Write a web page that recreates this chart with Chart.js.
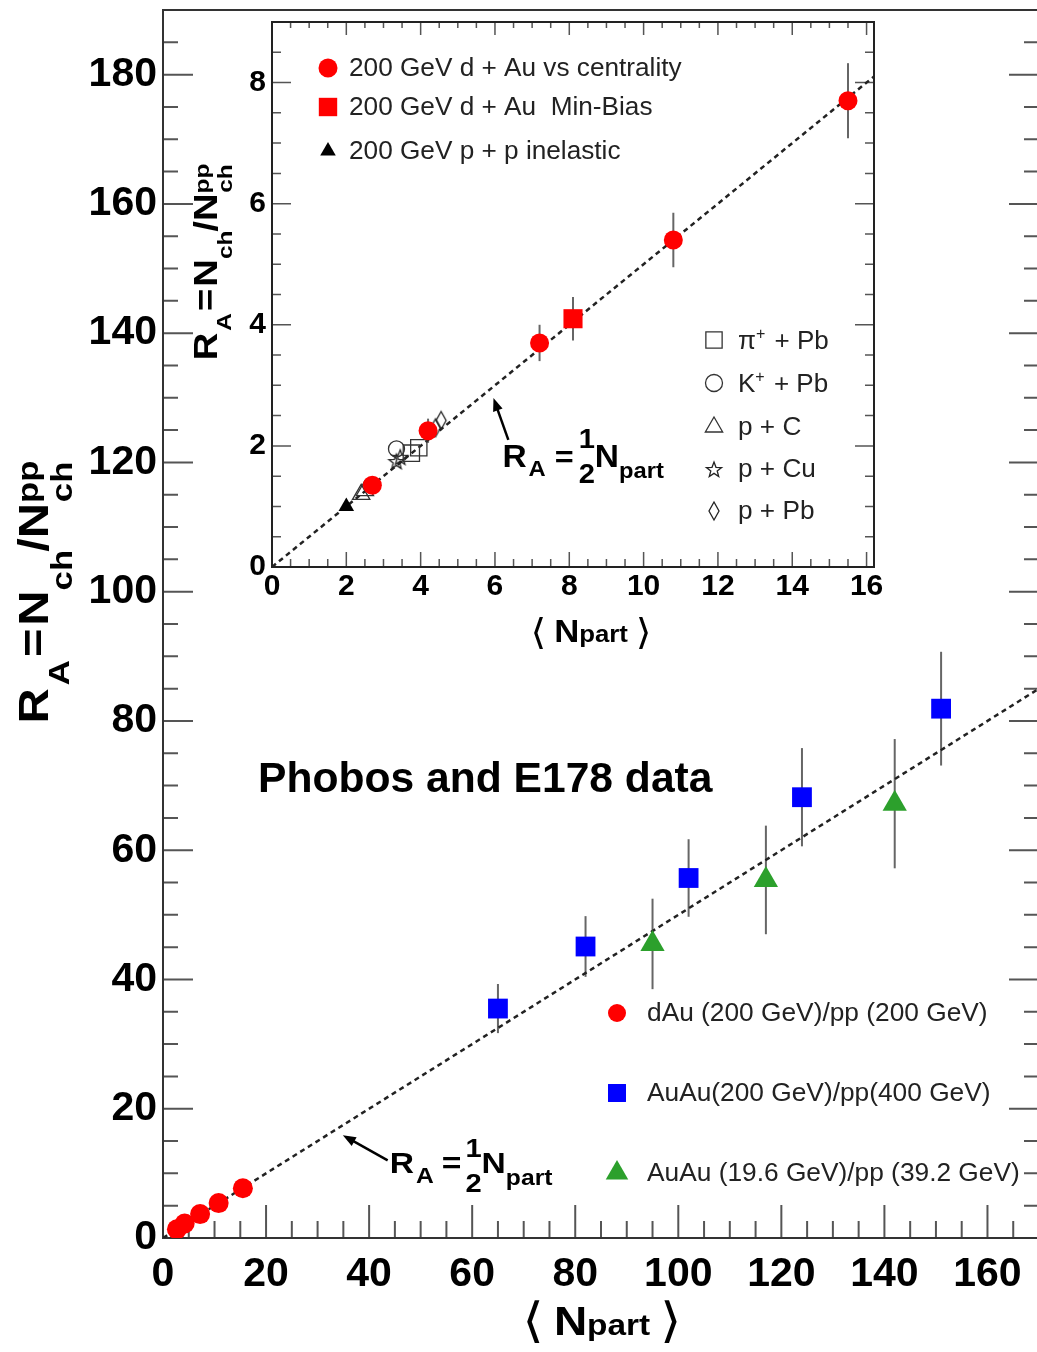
<!DOCTYPE html>
<html>
<head>
<meta charset="utf-8">
<script src="https://cdn.jsdelivr.net/npm/chart.js@4.4.0/dist/chart.umd.min.js"></script>
<style>
html, body { margin: 0; padding: 0; background: #fff; overflow: hidden; }
#wrap { position: relative; width: 1045px; height: 1352px; }
#main { position: absolute; left: 0; top: 0; }
#inset { position: absolute; left: 180px; top: 0; }
</style>
</head>
<body>
<div id="wrap">
<canvas id="main" width="1045" height="1352"></canvas>
<canvas id="inset" width="720" height="670"></canvas>
</div>
<script>
// ---- data: main panel ----
let dauNpart = [2.7, 4.2, 7.2, 10.8, 15.5];
let dauRatio = [1.35, 2.25, 3.7, 5.4, 7.7];
let dauErr = [0.12, 0.2, 0.3, 0.45, 0.62];

let auau200Npart = [65, 82, 102, 124, 151];
let auau200Ratio = [35.5, 45.1, 55.7, 68.2, 81.9];
let auau200Err = [3.8, 4.7, 6.0, 7.6, 8.8];

let auau19Npart = [95, 117, 142];
let auau19Ratio = [45.5, 55.4, 67.2];
let auau19Err = [7.0, 8.4, 10.0];

let lineNpart = [0, 170];
let lineRatio = [0, 85];

let mainXTicks = [0, 20, 40, 60, 80, 100, 120, 140, 160];
let mainYTicks = [0, 20, 40, 60, 80, 100, 120, 140, 160, 180];

// ---- data: inset ----
let minBiasNpart = [8.1];
let minBiasRatio = [4.1];
let minBiasErr = [0.36];
let ppNpart = [2.0];
let ppRatio = [1.0];
let piPbNpart = [3.75, 3.95];
let piPbRatio = [1.88, 1.97];
let kPbNpart = [3.35];
let kPbRatio = [1.95];
let pcNpart = [2.4, 2.5];
let pcRatio = [1.2, 1.26];
let pcuNpart = [3.35, 3.45];
let pcuRatio = [1.75, 1.82];
let ppbNpart = [4.4, 4.55];
let ppbRatio = [2.3, 2.42];
let insetLineNpart = [0, 16.2];
let insetLineRatio = [0, 8.1];

let insetXTicks = [0, 2, 4, 6, 8, 10, 12, 14, 16];
let insetYTicks = [0, 2, 4, 6, 8];

const INSET_LEFT = 180;
const FONT = '"Liberation Sans", Arial, sans-serif';
const WIDE = 1.16;   // the original lettering is a bit wider than Arial

function pts(xs, ys) {
    return xs.map((x, i) => ({ x: x, y: ys[i] }));
}

function makeStar(r) {
    let c = document.createElement('canvas');
    let s = Math.ceil(r * 2 + 4);
    c.width = s; c.height = s;
    let g = c.getContext('2d');
    g.strokeStyle = '#222'; g.lineWidth = 1.3;
    g.beginPath();
    for (let i = 0; i < 10; i++) {
        let rr = i % 2 === 0 ? r : r * 0.42;
        let a = -Math.PI / 2 + i * Math.PI / 5;
        let px = s / 2 + rr * Math.cos(a), py = s / 2 + 1 + rr * Math.sin(a);
        if (i === 0) g.moveTo(px, py); else g.lineTo(px, py);
    }
    g.closePath(); g.stroke();
    return c;
}

function makeDiamond(w, h) {
    let c = document.createElement('canvas');
    c.width = w + 4; c.height = h + 4;
    let g = c.getContext('2d');
    g.strokeStyle = '#222'; g.lineWidth = 1.3;
    g.beginPath();
    g.moveTo(c.width / 2, 2); g.lineTo(c.width - 2, c.height / 2);
    g.lineTo(c.width / 2, c.height - 2); g.lineTo(2, c.height / 2);
    g.closePath(); g.stroke();
    return c;
}

let starImg = makeStar(8);
let diamondImg = makeDiamond(10, 18);

// ---- text helpers ----
function fontStr(p) {
    return (p.weight || 'bold') + ' ' + p.size + 'px ' + (p.family || FONT);
}
function runWidth(ctx, p, sx) {
    ctx.font = fontStr(p);
    if (p.stack) return sx * Math.max.apply(null, p.stack.map(s => ctx.measureText(s.t).width));
    return sx * ctx.measureText(p.t).width;
}
function drawRich(ctx, parts, x, y, align, color, sx) {
    sx = sx || 1;
    ctx.save();
    ctx.fillStyle = color || '#000';
    ctx.textBaseline = 'alphabetic';
    ctx.textAlign = 'left';
    let total = parts.reduce((s, p) => s + runWidth(ctx, p, sx) + (p.gap || 0), 0);
    let cx = align === 'center' ? x - total / 2 : x;
    parts.forEach(p => {
        ctx.font = fontStr(p);
        let w = runWidth(ctx, p, sx);
        let items = p.stack ? p.stack : [{ t: p.t, dy: p.dy || 0 }];
        items.forEach(s => {
            let sw = sx * ctx.measureText(s.t).width;
            ctx.save();
            ctx.translate(cx + (w - sw) / 2, y + s.dy);
            ctx.scale(sx, 1);
            ctx.fillText(s.t, 0, 0);
            ctx.restore();
        });
        cx += w + (p.gap || 0);
    });
    ctx.restore();
}

function drawArrow(ctx, x1, y1, x2, y2) {
    let a = Math.atan2(y2 - y1, x2 - x1);
    ctx.save();
    ctx.strokeStyle = '#000'; ctx.fillStyle = '#000'; ctx.lineWidth = 2.5;
    ctx.beginPath();
    ctx.moveTo(x1, y1);
    ctx.lineTo(x2 - 8 * Math.cos(a), y2 - 8 * Math.sin(a));
    ctx.stroke();
    ctx.beginPath();
    ctx.moveTo(x2, y2);
    ctx.lineTo(x2 - 13 * Math.cos(a) + 5 * Math.sin(a), y2 - 13 * Math.sin(a) - 5 * Math.cos(a));
    ctx.lineTo(x2 - 13 * Math.cos(a) - 5 * Math.sin(a), y2 - 13 * Math.sin(a) + 5 * Math.cos(a));
    ctx.closePath(); ctx.fill();
    ctx.restore();
}

function drawLegend(ctx, items, mx, tx, font) {
    items.forEach(it => {
        ctx.save();
        ctx.fillStyle = it.fill;
        ctx.strokeStyle = it.stroke || it.fill;
        ctx.lineWidth = it.borderWidth || 0;
        Chart.helpers.drawPoint(ctx, { pointStyle: it.style, radius: it.radius, rotation: 0, borderWidth: it.borderWidth || 0 }, mx, it.y);
        ctx.restore();
        if (it.rich) {
            drawRich(ctx, it.rich, tx, it.y + 9, 'left', '#222');
        } else {
            ctx.save();
            ctx.font = font; ctx.fillStyle = '#222';
            ctx.textBaseline = 'middle'; ctx.textAlign = 'left';
            ctx.fillText(it.label, tx, it.y + 1);
            ctx.restore();
        }
    });
}

// ---- plugins ----
function frameTicks(cfg) {
    return {
        id: 'frameTicks',
        beforeDatasetsDraw(chart) {
            let ctx = chart.ctx, a = chart.chartArea;
            let x = chart.scales.x, y = chart.scales.y;
            ctx.save();
            ctx.strokeStyle = cfg.tickColor; ctx.lineWidth = cfg.tickWidth;
            ctx.beginPath();
            let nx = Math.round((x.max - x.min) / cfg.xMinor);
            for (let i = 1; i <= nx; i++) {
                let v = x.min + i * cfg.xMinor;
                if (v >= x.max - 1e-9) break;
                let major = Math.abs(v / cfg.xMajor - Math.round(v / cfg.xMajor)) < 1e-6;
                let px = x.getPixelForValue(v);
                let lb = major ? cfg.bottomMajor : cfg.bottomMinor;
                ctx.moveTo(px, a.bottom); ctx.lineTo(px, a.bottom - lb);
                if (cfg.top) {
                    let lt = major ? cfg.topMajor : cfg.topMinor;
                    ctx.moveTo(px, a.top); ctx.lineTo(px, a.top + lt);
                }
            }
            let ny = Math.round((y.max - y.min) / cfg.yMinor);
            for (let i = 1; i <= ny; i++) {
                let v = y.min + i * cfg.yMinor;
                if (v >= y.max - 1e-9) break;
                let major = Math.abs(v / cfg.yMajor - Math.round(v / cfg.yMajor)) < 1e-6;
                let py = y.getPixelForValue(v);
                let l = major ? cfg.sideMajor : cfg.sideMinor;
                ctx.moveTo(a.left, py); ctx.lineTo(a.left + l, py);
                ctx.moveTo(a.right, py); ctx.lineTo(a.right - l, py);
            }
            ctx.stroke();
            ctx.strokeStyle = cfg.frameColor; ctx.lineWidth = cfg.frameWidth;
            ctx.strokeRect(a.left, a.top, a.right - a.left, a.bottom - a.top);
            ctx.restore();
        }
    };
}

const errorBars = {
    id: 'errorBars',
    beforeDatasetsDraw(chart) {
        let ctx = chart.ctx, ys = chart.scales.y;
        ctx.save();
        ctx.strokeStyle = '#666'; ctx.lineWidth = 2;
        chart.data.datasets.forEach((ds, i) => {
            if (!ds.errors) return;
            let meta = chart.getDatasetMeta(i);
            meta.data.forEach((el, j) => {
                let v = ds.data[j].y, e = ds.errors[j];
                ctx.beginPath();
                ctx.moveTo(el.x, ys.getPixelForValue(v - e));
                ctx.lineTo(el.x, ys.getPixelForValue(v + e));
                ctx.stroke();
            });
        });
        ctx.restore();
    }
};

function axisScale(ticksArr, fontSize, pad, fitFn) {
    return {
        type: 'linear',
        grid: { display: false, drawTicks: false },
        border: { display: false },
        afterBuildTicks: s => { s.ticks = ticksArr.map(v => ({ value: v })); },
        afterFit: s => {
            fitFn(s);
            s.paddingTop = 0; s.paddingBottom = 0; s.paddingLeft = 0; s.paddingRight = 0;
        },
        ticks: { font: { family: FONT, size: fontSize, weight: 'bold' }, color: '#000', padding: pad, maxRotation: 0, autoSkip: false }
    };
}

// ---- main chart ----
const mainDecor = {
    id: 'mainDecor',
    afterDraw(chart) {
        let ctx = chart.ctx;
        let x = chart.scales.x, y = chart.scales.y;
        // y title
        ctx.save();
        ctx.translate(48, 592);
        ctx.rotate(-Math.PI / 2);
        drawRich(ctx, [
            { t: 'R', size: 42, gap: 3 }, { t: 'A', size: 30, dy: 21, gap: 3 }, { t: '=', size: 42, gap: 3 },
            { t: 'N', size: 42 }, { t: 'ch', size: 30, dy: 24, gap: -2 }, { t: '/', size: 42 },
            { t: 'N', size: 42 }, { stack: [{ t: 'pp', dy: -10 }, { t: 'ch', dy: 24 }], size: 30 }
        ], 0, 0, 'center', '#000', WIDE);
        ctx.restore();
        // x title
        drawRich(ctx, [
            { t: '\u27E8', size: 48, weight: 'normal', family: '"DejaVu Sans"', dy: 2, gap: 10 },
            { t: 'N', size: 40 }, { t: 'part', size: 29, dy: 0, gap: 10 },
            { t: '\u27E9', size: 48, weight: 'normal', family: '"DejaVu Sans"', dy: 2 }
        ], 602, 1335, 'center', '#000', 1.15);
        // label
        ctx.save();
        ctx.font = 'bold 42.6px ' + FONT; ctx.fillStyle = '#000';
        ctx.fillText('Phobos and E178 data', 258, 792);
        ctx.restore();
        // R_A annotation
        drawArrow(ctx, x.getPixelForValue(43.6), y.getPixelForValue(12.0), x.getPixelForValue(34.9), y.getPixelForValue(15.9));
        drawRich(ctx, [
            { t: 'R', size: 30, gap: 2 }, { t: 'A', size: 22, dy: 10, gap: 8 }, { t: '=', size: 30, gap: 4 },
            { stack: [{ t: '1', dy: -16 }, { t: '2', dy: 19 }], size: 26 },
            { t: 'N', size: 30 }, { t: 'part', size: 22, dy: 12 }
        ], x.getPixelForValue(44.0), y.getPixelForValue(10.0), 'left', '#000', 1.12);
        // legend
        drawLegend(ctx, [
            { style: 'circle', radius: 9, fill: '#ff0000', y: 1013, label: 'dAu (200 GeV)/pp (200 GeV)' },
            { style: 'rect', radius: 12.7, fill: '#0000ff', y: 1093, label: 'AuAu(200 GeV)/pp(400 GeV)' },
            { style: 'triangle', radius: 13, fill: '#2ca02c', y: 1173, label: 'AuAu (19.6 GeV)/pp (39.2 GeV)' }
        ], 617, 647, '26.3px ' + FONT);
    }
};

new Chart(document.getElementById('main'), {
    type: 'scatter',
    data: {
        datasets: [
            { label: 'R_A = Npart/2', type: 'line', data: pts(lineNpart, lineRatio), borderColor: '#222', borderWidth: 2.5, borderDash: [5, 4], pointRadius: 0, fill: false, order: 5 },
            { label: 'dAu (200 GeV)/pp (200 GeV)', data: pts(dauNpart, dauRatio), errors: dauErr, pointStyle: 'circle', pointRadius: 10, backgroundColor: '#ff0000', borderWidth: 0 },
            { label: 'AuAu(200 GeV)/pp(400 GeV)', data: pts(auau200Npart, auau200Ratio), errors: auau200Err, pointStyle: 'rect', pointRadius: 14, backgroundColor: '#0000ff', borderWidth: 0 },
            { label: 'AuAu (19.6 GeV)/pp (39.2 GeV)', data: pts(auau19Npart, auau19Ratio), errors: auau19Err, pointStyle: 'triangle', pointRadius: 14, backgroundColor: '#2ca02c', borderWidth: 0 }
        ]
    },
    options: {
        responsive: false,
        animation: false,
        events: [],
        layout: { autoPadding: false, padding: { top: 10, right: 6, left: 0, bottom: 0 } },
        plugins: { legend: { display: false }, tooltip: { enabled: false } },
        scales: {
            x: Object.assign(axisScale(mainXTicks, 41, 12, s => { s.height = 114; }), { min: 0, max: 170 }),
            y: Object.assign(axisScale(mainYTicks, 41, 6, s => { s.width = 163; }), { min: 0, max: 190 })
        }
    },
    plugins: [frameTicks({
        xMinor: 5, xMajor: 20, yMinor: 5, yMajor: 20,
        bottomMajor: 33, bottomMinor: 17, sideMajor: 30, sideMinor: 15, top: false,
        tickColor: '#555', tickWidth: 2, frameColor: '#333', frameWidth: 2
    }), errorBars, mainDecor]
});

// ---- inset chart ----
const insetDecor = {
    id: 'insetDecor',
    afterDraw(chart) {
        let ctx = chart.ctx;
        let x = chart.scales.x, y = chart.scales.y;
        ctx.save();
        ctx.translate(217 - INSET_LEFT, 262);
        ctx.rotate(-Math.PI / 2);
        drawRich(ctx, [
            { t: 'R', size: 33, gap: 2 }, { t: 'A', size: 21, dy: 14, gap: 2 }, { t: '=', size: 33, gap: 2 },
            { t: 'N', size: 33 }, { t: 'ch', size: 21, dy: 15, gap: -1 }, { t: '/', size: 33 },
            { t: 'N', size: 33 }, { stack: [{ t: 'pp', dy: -8 }, { t: 'ch', dy: 15 }], size: 21 }
        ], 0, 0, 'center', '#000', WIDE);
        ctx.restore();
        drawRich(ctx, [
            { t: '\u27E8', size: 36, weight: 'normal', family: '"DejaVu Sans"', dy: 2, gap: 8 },
            { t: 'N', size: 31 }, { t: 'part', size: 23, dy: 0, gap: 8 },
            { t: '\u27E9', size: 36, weight: 'normal', family: '"DejaVu Sans"', dy: 2 }
        ], 591 - INSET_LEFT, 642, 'center', '#000', 1.12);
        drawArrow(ctx, x.getPixelForValue(6.36), y.getPixelForValue(2.1), x.getPixelForValue(5.96), y.getPixelForValue(2.79));
        drawRich(ctx, [
            { t: 'R', size: 31, gap: 2 }, { t: 'A', size: 22, dy: 9, gap: 9 }, { t: '=', size: 30, gap: 5 },
            { stack: [{ t: '1', dy: -19 }, { t: '2', dy: 16 }], size: 27 },
            { t: 'N', size: 31 }, { t: 'part', size: 22, dy: 11 }
        ], x.getPixelForValue(6.2), y.getPixelForValue(1.65), 'left', '#000', 1.08);
        drawLegend(ctx, [
            { style: 'circle', radius: 9.5, fill: '#ff0000', y: 68, label: '200 GeV d + Au vs centrality' },
            { style: 'rect', radius: 13, fill: '#ff0000', y: 107, label: '200 GeV d + Au  Min-Bias' },
            { style: 'triangle', radius: 9, fill: '#000', y: 151, label: '200 GeV p + p inelastic' }
        ], 328 - INSET_LEFT, 349 - INSET_LEFT, '26.2px ' + FONT);
        drawLegend(ctx, [
            { style: 'rect', radius: 11.5, fill: 'rgba(0,0,0,0)', stroke: '#333', borderWidth: 1.3, y: 340,
              rich: [{ t: '\u03C0', size: 26, weight: 'normal' }, { t: '+', size: 16, weight: 'normal', dy: -10, gap: 2 }, { t: ' + Pb', size: 26, weight: 'normal' }] },
            { style: 'circle', radius: 8.5, fill: 'rgba(0,0,0,0)', stroke: '#333', borderWidth: 1.3, y: 383,
              rich: [{ t: 'K', size: 26, weight: 'normal' }, { t: '+', size: 16, weight: 'normal', dy: -10, gap: 2 }, { t: ' + Pb', size: 26, weight: 'normal' }] },
            { style: 'triangle', radius: 10, fill: 'rgba(0,0,0,0)', stroke: '#333', borderWidth: 1.3, y: 427, label: 'p + C' },
            { style: starImg, radius: 8, fill: 'rgba(0,0,0,0)', y: 469, label: 'p + Cu' },
            { style: diamondImg, radius: 8, fill: 'rgba(0,0,0,0)', y: 511, label: 'p + Pb' }
        ], 714 - INSET_LEFT, 738 - INSET_LEFT, '26.2px ' + FONT);
    }
};

const openMarker = { backgroundColor: 'rgba(0,0,0,0)', borderColor: '#333', borderWidth: 1.3 };

new Chart(document.getElementById('inset'), {
    type: 'scatter',
    data: {
        datasets: [
            { label: 'R_A = Npart/2', type: 'line', data: pts(insetLineNpart, insetLineRatio), borderColor: '#222', borderWidth: 2.5, borderDash: [5, 4], pointRadius: 0, fill: false, order: 5 },
            { label: '200 GeV d + Au vs centrality', data: pts(dauNpart, dauRatio), errors: dauErr, pointStyle: 'circle', pointRadius: 9.5, backgroundColor: '#ff0000', borderWidth: 0 },
            { label: '200 GeV d + Au Min-Bias', data: pts(minBiasNpart, minBiasRatio), errors: minBiasErr, pointStyle: 'rect', pointRadius: 13.5, backgroundColor: '#ff0000', borderWidth: 0 },
            { label: '200 GeV p + p inelastic', data: pts(ppNpart, ppRatio), pointStyle: 'triangle', pointRadius: 9, backgroundColor: '#000', borderWidth: 0 },
            Object.assign({ label: 'pi+ + Pb', data: pts(piPbNpart, piPbRatio), pointStyle: 'rect', pointRadius: 11.5 }, openMarker),
            Object.assign({ label: 'K+ + Pb', data: pts(kPbNpart, kPbRatio), pointStyle: 'circle', pointRadius: 8 }, openMarker),
            Object.assign({ label: 'p + C', data: pts(pcNpart, pcRatio), pointStyle: 'triangle', pointRadius: 10 }, openMarker),
            { label: 'p + Cu', data: pts(pcuNpart, pcuRatio), pointStyle: starImg, pointRadius: 8 },
            { label: 'p + Pb', data: pts(ppbNpart, ppbRatio), pointStyle: diamondImg, pointRadius: 8 }
        ]
    },
    options: {
        responsive: false,
        animation: false,
        events: [],
        layout: { autoPadding: false, padding: { top: 22, right: 26, left: 0, bottom: 0 } },
        plugins: { legend: { display: false }, tooltip: { enabled: false } },
        scales: {
            x: Object.assign(axisScale(insetXTicks, 30, 2, s => { s.height = 103; }), { min: 0, max: 16.2 }),
            y: Object.assign(axisScale(insetYTicks, 30, 6, s => { s.width = 272 - INSET_LEFT; }), { min: 0, max: 9 })
        }
    },
    plugins: [frameTicks({
        xMinor: 0.5, xMajor: 2, yMinor: 0.5, yMajor: 2,
        bottomMajor: 15, bottomMinor: 8, topMajor: 13, topMinor: 6, sideMajor: 19, sideMinor: 9, top: true,
        tickColor: '#555', tickWidth: 1.5, frameColor: '#222', frameWidth: 2
    }), errorBars, insetDecor]
});
</script>
</body>
</html>
